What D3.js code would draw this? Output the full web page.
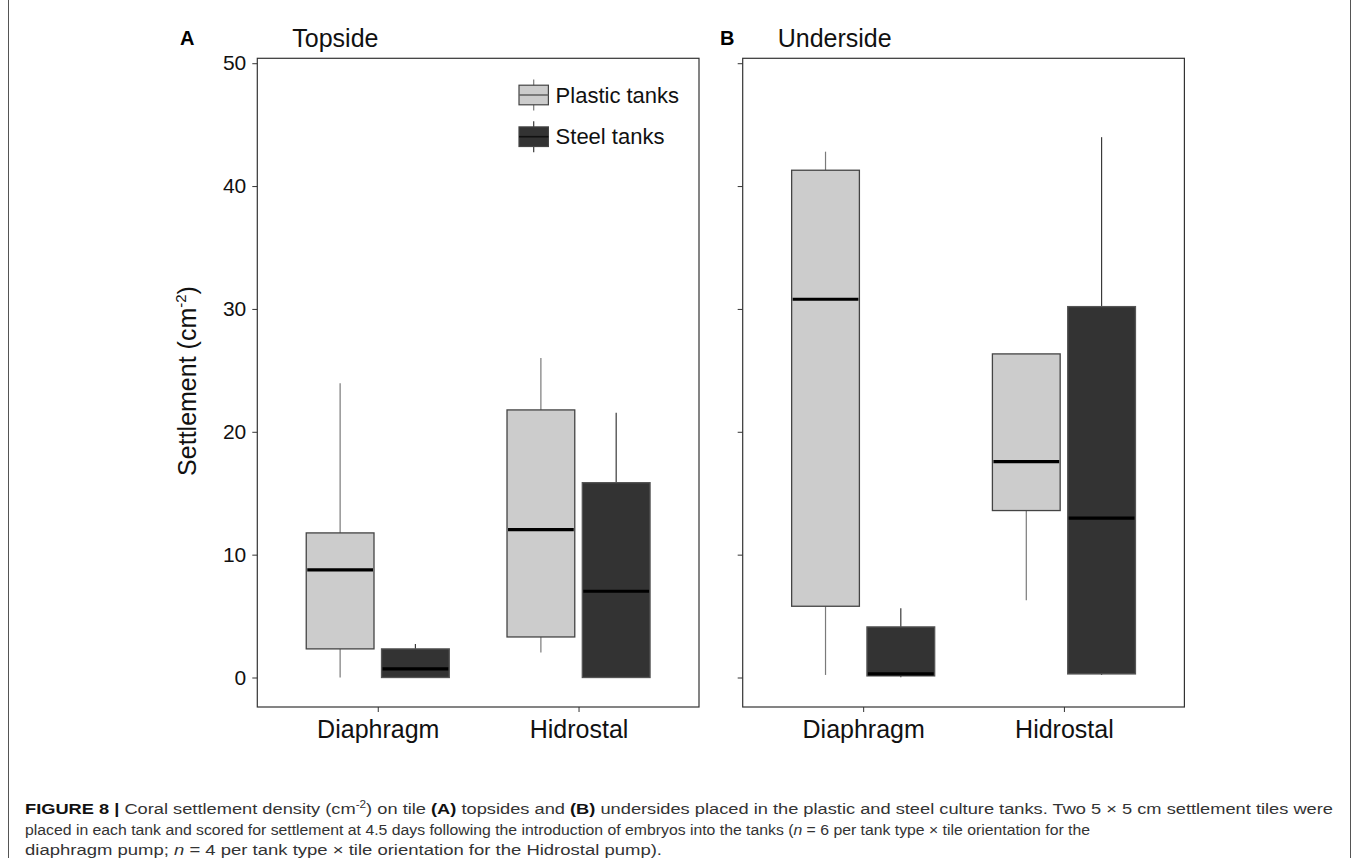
<!DOCTYPE html>
<html>
<head>
<meta charset="utf-8">
<script src="https://cdn.jsdelivr.net/npm/d3@7"></script>
<style>
  html, body { margin: 0; padding: 0; background: #fff; }
  svg { display: block; }
  text { font-family: "Liberation Sans", Arial, sans-serif; }
</style>
</head>
<body>
<svg id="chart" width="1358" height="858"></svg>
<script>
// ---------------- data ----------------
const categories = ["Diaphragm", "Hidrostal"];
const tanks = ["Plastic tanks", "Steel tanks"];
const panelTitles = ["Topside", "Underside"];
const panelLetters = ["A", "B"];
const yTicks = [0, 10, 20, 30, 40, 50];
// box stats: [min, q1, median, q3, max] for Diaphragm, Hidrostal
const topsidePlastic = [[0, 2.33, 8.76, 11.77, 23.95], [2.03, 3.30, 12.04, 21.78, 26.0]];
const topsideSteel = [[0, 0, 0.70, 2.33, 2.73], [0, 0, 7.02, 15.86, 21.56]];
const undersidePlastic = [[0.21, 5.80, 30.79, 41.29, 42.8], [6.29, 13.59, 17.57, 26.34, 26.34]];
const undersideSteel = [[0.02, 0.13, 0.29, 4.12, 5.64], [0.21, 0.29, 12.97, 30.19, 43.98]];

const panels = [
  { title: panelTitles[0], letter: panelLetters[0], letterX: 180, series: [topsidePlastic, topsideSteel], left: 257.3, labels: true, legend: true },
  { title: panelTitles[1], letter: panelLetters[1], letterX: 720, series: [undersidePlastic, undersideSteel], left: 742.7, labels: false, legend: false }
];

const fills = ["#cccccc", "#333333"];
const whiskerCols = ["#7a7a7a", "#3a3a3a"];

const svg = d3.select("#chart");
const panelW = 441.7, plotTop = 58.3, plotBottom = 707;

// outer figure border
svg.append("line").attr("x1", 8.5).attr("x2", 8.5).attr("y1", 0).attr("y2", 858).attr("stroke", "#555").attr("stroke-width", 1);
svg.append("line").attr("x1", 1350.5).attr("x2", 1350.5).attr("y1", 0).attr("y2", 858).attr("stroke", "#555").attr("stroke-width", 1);

const y = d3.scaleLinear().domain([-2.4, 50.4]).range([plotBottom, plotTop]);

panels.forEach(p => {
  const g = svg.append("g");
  const x = d3.scaleLinear().domain([0.4, 2.6]).range([p.left, p.left + panelW]);
  const unit = x(1) - x(0);
  const dodge = 0.1875, bw = 0.3375;

  // y axis
  const yAxis = d3.axisLeft(y).tickValues(yTicks).tickSize(5).tickPadding(6)
    .tickFormat(p.labels ? d3.format("d") : () => "");
  const ya = g.append("g").attr("transform", `translate(${p.left},0)`).call(yAxis);
  ya.select(".domain").remove();
  ya.selectAll(".tick line").attr("stroke", "#333");
  ya.selectAll(".tick text").attr("font-size", 21).attr("fill", "#111").attr("font-family", "Liberation Sans, Arial, sans-serif");

  // x axis
  const xAxis = d3.axisBottom(x).tickValues([1, 2]).tickSize(5).tickPadding(8)
    .tickFormat((d, i) => categories[i]);
  const xa = g.append("g").attr("transform", `translate(0,${plotBottom})`).call(xAxis);
  xa.select(".domain").remove();
  xa.selectAll(".tick line").attr("stroke", "#333");
  xa.selectAll(".tick text").attr("font-size", 25).attr("fill", "#111").attr("font-family", "Liberation Sans, Arial, sans-serif");

  // boxes
  p.series.forEach((ser, si) => {
    ser.forEach((s, ci) => {
      const cx = x(ci + 1 + (si === 0 ? -dodge : dodge));
      const half = bw * unit / 2;
      g.append("line").attr("x1", cx).attr("x2", cx).attr("y1", y(s[4])).attr("y2", y(s[3]))
        .attr("stroke", whiskerCols[si]).attr("stroke-width", 1.2);
      g.append("line").attr("x1", cx).attr("x2", cx).attr("y1", y(s[1])).attr("y2", y(s[0]))
        .attr("stroke", whiskerCols[si]).attr("stroke-width", 1.2);
      g.append("rect").attr("x", cx - half).attr("width", 2 * half)
        .attr("y", y(s[3])).attr("height", Math.max(0.5, y(s[1]) - y(s[3])))
        .attr("fill", fills[si]).attr("stroke", si === 0 ? "#444" : "#555").attr("stroke-width", 1.3);
      g.append("line").attr("x1", cx - half + 1).attr("x2", cx + half - 1).attr("y1", y(s[2])).attr("y2", y(s[2]))
        .attr("stroke", "#000").attr("stroke-width", 3.2);
    });
  });

  // frame
  g.append("rect").attr("x", p.left).attr("y", plotTop).attr("width", panelW).attr("height", plotBottom - plotTop)
    .attr("fill", "none").attr("stroke", "#333").attr("stroke-width", 1.2);

  // title & letter
  g.append("text").attr("x", p.left + 35).attr("y", 47).attr("font-size", 25).attr("fill", "#111").text(p.title);
  g.append("text").attr("x", p.letterX).attr("y", 45).attr("font-size", 20).attr("font-weight", "bold").attr("fill", "#000").text(p.letter);

  // legend
  if (p.legend) {
    const lg = g.append("g");
    const keyX = 519, keyW = 29.4, rows = [95, 136.7];
    tanks.forEach((t, i) => {
      const cy = rows[i];
      lg.append("line").attr("x1", keyX + keyW / 2).attr("x2", keyX + keyW / 2).attr("y1", cy - 15.5).attr("y2", cy + 15.5)
        .attr("stroke", whiskerCols[i]).attr("stroke-width", 1.2);
      lg.append("rect").attr("x", keyX).attr("y", cy - 9.8).attr("width", keyW).attr("height", 19.6)
        .attr("fill", fills[i]).attr("stroke", "#444").attr("stroke-width", 1.2);
      lg.append("line").attr("x1", keyX).attr("x2", keyX + keyW).attr("y1", cy).attr("y2", cy)
        .attr("stroke", i === 0 ? "#666" : "#111").attr("stroke-width", 1.6);
      lg.append("text").attr("x", 555.6).attr("y", cy).attr("dy", "0.35em").attr("font-size", 22).attr("fill", "#111").text(t);
    });
  }
});

// y axis label
const yl = svg.append("text").attr("transform", "translate(196,381) rotate(-90)")
  .attr("text-anchor", "middle").attr("font-size", 25).attr("fill", "#111");
yl.append("tspan").text("Settlement (cm");
yl.append("tspan").attr("font-size", 15).attr("dy", -10).text("-2");
yl.append("tspan").attr("dy", 10).text(")");

// caption
const cap = svg.append("g").attr("font-size", 15.5).attr("fill", "#333");
const l1 = cap.append("text").attr("x", 25).attr("y", 814).attr("textLength", 1308).attr("lengthAdjust", "spacingAndGlyphs");
l1.append("tspan").attr("font-weight", "bold").attr("fill", "#111").text("FIGURE 8 | ");
l1.append("tspan").text("Coral settlement density (cm");
l1.append("tspan").attr("font-size", 10).attr("dy", -6).text("-2");
l1.append("tspan").attr("dy", 6).text(") on tile ");
l1.append("tspan").attr("font-weight", "bold").attr("fill", "#111").text("(A)");
l1.append("tspan").text(" topsides and ");
l1.append("tspan").attr("font-weight", "bold").attr("fill", "#111").text("(B)");
l1.append("tspan").text(" undersides placed in the plastic and steel culture tanks. Two 5 \u00d7 5 cm settlement tiles were");

const l2 = cap.append("text").attr("x", 25).attr("y", 834.5).attr("textLength", 1065).attr("lengthAdjust", "spacingAndGlyphs");
l2.append("tspan").text("placed in each tank and scored for settlement at 4.5 days following the introduction of embryos into the tanks (");
l2.append("tspan").attr("font-style", "italic").text("n");
l2.append("tspan").text(" = 6 per tank type \u00d7 tile orientation for the");

const l3 = cap.append("text").attr("x", 25).attr("y", 855).attr("textLength", 637).attr("lengthAdjust", "spacingAndGlyphs");
l3.append("tspan").text("diaphragm pump; ");
l3.append("tspan").attr("font-style", "italic").text("n");
l3.append("tspan").text(" = 4 per tank type \u00d7 tile orientation for the Hidrostal pump).");
</script>
</body>
</html>
